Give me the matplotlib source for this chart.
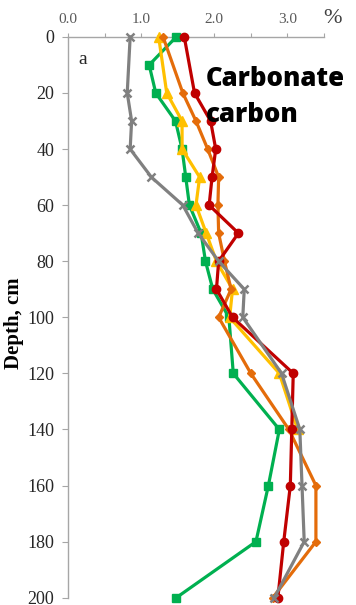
import numpy as np
import matplotlib
matplotlib.use('Agg')
import matplotlib.pyplot as plt
from matplotlib.ticker import MultipleLocator, FuncFormatter

# depth levels (cm)
depth = [0, 20, 30, 40, 50, 60, 70, 80, 90, 100, 120, 140, 160, 180, 200]
depth_green = [0, 10, 20, 30, 40, 50, 60, 70, 80, 90, 100, 120, 140, 160, 180, 200]
depth_yellow = [0, 20, 30, 40, 50, 60, 70, 80, 90, 100, 120, 140]

# carbonate carbon, %
green = [1.48, 1.11, 1.20, 1.47, 1.56, 1.61, 1.66, 1.82, 1.88, 1.98, 2.20, 2.26, 2.89, 2.74, 2.57, 1.48]
yellow = [1.24, 1.35, 1.56, 1.56, 1.80, 1.75, 1.89, 2.03, 2.25, 2.21, 2.89, 3.14]
orange = [1.30, 1.57, 1.75, 1.91, 2.06, 2.05, 2.06, 2.14, 2.23, 2.06, 2.50, 3.02, 3.39, 3.39, 2.80]
red = [1.59, 1.73, 1.95, 2.02, 1.97, 1.93, 2.33, 2.06, 2.03, 2.25, 3.08, 3.06, 3.04, 2.95, 2.87]
gray = [0.85, 0.81, 0.87, 0.85, 1.14, 1.57, 1.78, 2.06, 2.41, 2.39, 2.92, 3.17, 3.20, 3.23, 2.82]

plt.rcParams['font.family'] = ['Liberation Serif', 'DejaVu Serif']

fig = plt.figure(figsize=(3.56, 6.05), dpi=100)
ax = fig.add_axes([0.191, 0.012, 0.719, 0.927])

lw = 2.3
ax.plot(green, depth_green, color='#00B050', lw=lw, marker='s', ms=6, clip_on=False, zorder=3)
ax.plot(yellow, depth_yellow, color='#FFC000', lw=lw, marker='^', ms=7, clip_on=False, zorder=3)
ax.plot(orange, depth, color='#E46C0A', lw=lw, marker='D', ms=4, clip_on=False, zorder=3)
ax.plot(red, depth, color='#C00000', lw=lw, marker='o', ms=6, clip_on=False, zorder=4)
ax.plot(gray, depth, color='#808080', lw=lw, marker='x', ms=6, mew=1.8, clip_on=False, zorder=5)

ax.set_xlim(0, 3.5)
ax.set_ylim(200, 0)
ax.xaxis.tick_top()
ax.xaxis.set_major_locator(MultipleLocator(0.5))
ax.xaxis.set_major_formatter(FuncFormatter(lambda v, p: '%.1f' % v if abs(v - round(v)) < 1e-6 and v < 3.5 else ''))
ax.yaxis.set_major_locator(MultipleLocator(20))

for s in ['right', 'bottom']:
    ax.spines[s].set_visible(False)
for s in ['top', 'left']:
    ax.spines[s].set_color('#A6A6A6')
    ax.spines[s].set_linewidth(1.0)

ax.tick_params(axis='x', direction='out', length=3, color='#A6A6A6', labelsize=11, labelcolor='#595959', pad=5)
ax.tick_params(axis='y', direction='out', length=4, color='#A6A6A6', labelsize=13, labelcolor='#262626', pad=6)

ax.set_ylabel('Depth, cm', fontsize=15, fontweight='bold', labelpad=2)
ax.yaxis.set_label_coords(-0.17, 0.49)

ax.text(0.04, 0.975, 'a', transform=ax.transAxes, fontsize=14, color='#262626', va='top', ha='left')
fig.text(0.935, 0.97, '%', fontsize=16, color='#404040', ha='center', va='center')
title_font = ['Open Sans', 'DejaVu Sans']
fig.text(0.579, 1 - 86 / 605, 'Carbonate', fontsize=18.5, fontweight='heavy', family=title_font,
         ha='left', va='baseline', zorder=10)
fig.text(0.579, 1 - 122 / 605, 'carbon', fontsize=18.5, fontweight='heavy', family=title_font,
         ha='left', va='baseline', zorder=10)

fig.savefig('out.png', dpi=100)
